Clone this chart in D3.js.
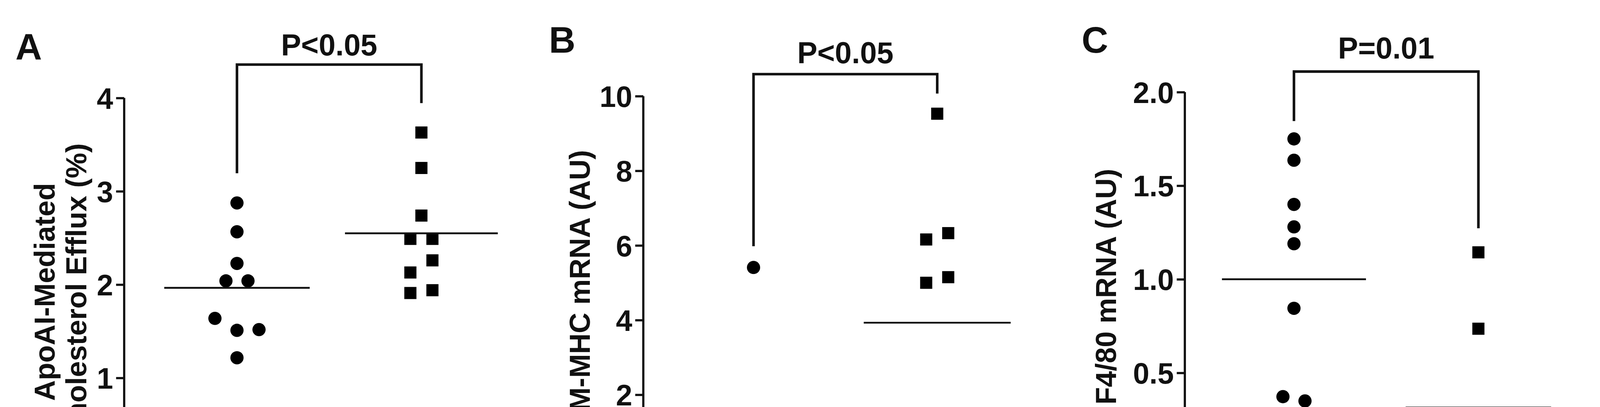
<!DOCTYPE html>
<html><head><meta charset="utf-8">
<script src="https://cdn.jsdelivr.net/npm/d3@7"></script>
<style>html,body{margin:0;padding:0;background:#fff;overflow:hidden;width:100%;height:100%}svg{display:block;width:100vw;height:100vh}text{font-family:"Liberation Sans Narrow","Liberation Sans",Arial,sans-serif;font-weight:bold;fill:#111}</style>
</head><body><svg id="c" viewBox="0 0 4355 1043" preserveAspectRatio="xMidYMid meet"></svg>
<script>
const categories = ["Scr","A5p"];
// Panel A
const aScr = [2.875,2.566,2.227,2.04,2.04,1.638,1.51,1.518,1.216];
const aScrSlot = [0,0,0,-1,1,-2,0,2,0];
const aA5p = [3.63,3.25,2.74,2.49,2.49,2.26,2.13,1.91,1.94];
const aA5pSlot = [0,0,0,-1,1,1,-1,-1,1];
const aMeans = [1.965,2.55];
const aTicks = [0,1,2,3,4];
// Panel B
const bScr = [5.41,0.93,0.91,0.66,0.43,0.34,0.09,0.11,0.05];
const bScrSlot = [0,-2,2,0,-2,2,-4,0,4];
const bA5p = [9.53,6.16,6.33,5.0,5.15,1.49,0.77,0.64,0.15];
const bA5pSlot = [0,-1,1,-1,1,0,-1,1,0];
const bMeans = [1.0,3.93];
const bTicks = [0,2,4,6,8,10];
// Panel C
const cScr = [1.75,1.636,1.40,1.28,1.19,0.845,0.373,0.35,0.109];
const cScrSlot = [0,0,0,0,0,0,-1,1,0];
const cA5p = [1.144,0.736,0.236,0.145,0.14,0.109,0.18,0.073,0.076];
const cA5pSlot = [0,0,0,-2,2,0,4,4,-4];
const cMeans = [1.0,0.315];
const cTicks = [0,0.5,1.0,1.5,2.0];

const panels = [
 {letter:"A",lx:42,ly:130,ax:338,right:1425,y0:1251,y1:234,max:4,ticks:aTicks,fmt:d3.format("d"),
  scr:aScr,scrSlot:aScrSlot,a5p:aA5p,a5pSlot:aA5pSlot,means:aMeans,
  title:["ApoAI-Mediated","Cholesterol Efflux (%)"],tx:[122,208],
  p:"P<0.05",bt:143,bl:439,br:248,py:118,cx:[645,1147],mw:[198,208]},
 {letter:"B",lx:1494,ly:111,ax:1751,right:2851,y0:1246,y1:229,max:10,ticks:bTicks,fmt:d3.format("d"),
  scr:bScr,scrSlot:bScrSlot,a5p:bA5p,a5pSlot:bA5pSlot,means:bMeans,
  title:["SM-MHC mRNA (AU)"],tx:[1578],
  p:"P<0.05",bt:169,bl:638,br:222,py:139,cx:[2051,2551],mw:[195,200]},
 {letter:"C",lx:2944,ly:111,ax:3225,right:4324,y0:1238,y1:218,max:2,ticks:cTicks,fmt:d3.format(".1f"),
  scr:cScr,scrSlot:cScrSlot,a5p:cA5p,a5pSlot:cA5pSlot,means:cMeans,
  title:["F4/80 mRNA (AU)"],tx:[3010],
  p:"P=0.01",bt:162,bl:297,br:589,py:126,cx:[3522,4024],mw:[196,198]}
];
const svg = d3.select("#c");
const slotW = 30, R = 18, S = 33;
panels.forEach(P=>{
  const g = svg.append("g");
  const y = d3.scaleLinear().domain([0,P.max]).range([P.y0,P.y1]);
  const x = d3.scalePoint().domain(categories).range(P.cx);
  g.append("text").attr("x",P.lx).attr("y",P.ly).attr("font-size",100).text(P.letter);
  const ax = g.append("g").attr("transform",`translate(${P.ax},0)`)
    .call(d3.axisLeft(y).tickValues(P.ticks).tickFormat(P.fmt).tickSize(22).tickPadding(8));
  ax.select(".domain").attr("stroke","#111").attr("stroke-width",6).attr("d",`M0,${y(P.max)}V${P.y0}`);
  ax.selectAll(".tick line").attr("stroke","#111").attr("stroke-width",6);
  ax.selectAll(".tick text").attr("font-size",80).attr("font-family",null).attr("fill","#111").attr("dy","0.36em");
  const xa = g.append("g").attr("transform",`translate(0,${P.y0})`)
    .call(d3.axisBottom(x).tickSize(22).tickPadding(20));
  xa.select(".domain").attr("stroke","#111").attr("stroke-width",6).attr("d",`M${P.ax},0H${P.right}`);
  xa.selectAll(".tick line").attr("stroke","#111").attr("stroke-width",6);
  xa.selectAll(".tick text").attr("font-size",80).attr("font-family",null).attr("fill","#111");
  P.title.forEach((t,i)=>{
    g.append("text").attr("transform",`translate(${P.tx[i]},${(P.y0+P.y1)/2+20}) rotate(-90)`)
     .attr("text-anchor","middle").attr("dy","0.35em").attr("font-size",78).text(t);
  });
  g.selectAll(".dot").data(P.scr.map((v,i)=>({v,s:P.scrSlot[i]}))).join("circle")
    .attr("cx",d=>x("Scr")+d.s*slotW).attr("cy",d=>y(d.v)).attr("r",R).attr("fill","#000");
  g.selectAll(".sq").data(P.a5p.map((v,i)=>({v,s:P.a5pSlot[i]}))).join("rect")
    .attr("x",d=>x("A5p")+d.s*slotW-S/2).attr("y",d=>y(d.v)-S/2).attr("width",S).attr("height",S).attr("fill","#000");
  categories.forEach((c,i)=>{
    g.append("line").attr("x1",x(c)-P.mw[i]).attr("x2",x(c)+P.mw[i])
     .attr("y1",y(P.means[i])).attr("y2",y(P.means[i])).attr("stroke","#111").attr("stroke-width",5);
  });
  g.append("path").attr("fill","none").attr("stroke","#111").attr("stroke-width",7)
    .attr("d",`M${x("Scr")},${P.bl}V${P.bt}H${x("A5p")}V${P.br}`);
  g.append("text").attr("x",(x("Scr")+x("A5p"))/2).attr("y",P.py).attr("text-anchor","middle")
    .attr("font-size",82).text(P.p);
});
</script></body></html>
